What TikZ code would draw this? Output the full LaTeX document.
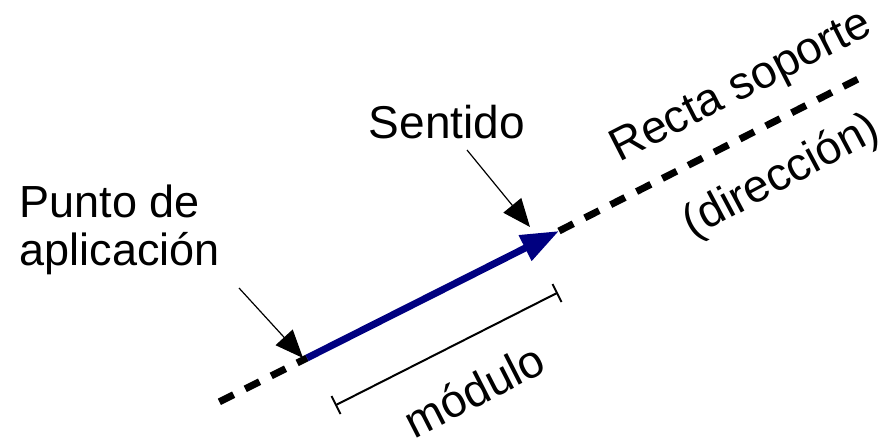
\documentclass[tikz,border=0pt]{standalone}
\usepackage{fontspec}
\setmainfont{Liberation Sans}
\usetikzlibrary{arrows.meta,calc}
\definecolor{vecblue}{RGB}{0,0,128}

\begin{document}
\begin{tikzpicture}[x=1pt,y=-1pt,
  every node/.style={font=\fontsize{46}{48}\selectfont},
  soporte/.style={line width=7pt,dash pattern=on 16pt off 13pt},
  pointer/.style={line width=1.2pt,-{Triangle[length=28pt,width=23pt]}},
  vecline/.style={line width=7pt,vecblue,-{Triangle[length=38pt,width=27pt]}}]
\useasboundingbox (0,0) rectangle (887,441);

  \coordinate (lineA) at (213,405);
  \coordinate (lineB) at (864,76);
  \coordinate (vecA) at (307,358);
  \coordinate (vecB) at (559,231);
  \coordinate (modA) at (336,405);
  \coordinate (modB) at (557,293);

 % recta soporte, in two pieces
 \draw[soporte,dash phase=5pt] (vecA)--(lineA);
 \draw[soporte] (vecB)--(lineB);
 \draw[vecline] (vecA)--(vecB);

 % modulo
 \draw[line width=2pt] (modA)--(modB);
 \draw[line width=2pt] ($(modA)+(-4.5,-9)$) -- ($(modA)+(4.5,9)$);
 \draw[line width=2pt] ($(modB)+(-4.5,-9)$) -- ($(modB)+(4.5,9)$);

 \node (sentido) at (447,122) {Sentido};
 \node[align=left,anchor=west,font=\fontsize{45}{48}\selectfont] (punto) at (16,230) {Punto de\\aplicación};
 \node[rotate=27] (modulo) at (474,390) {módulo};
 \node[rotate=27] (recta) at (742,88) {Recta soporte};
 \node[rotate=28] (dir) at (782,177) {(dirección)};

 \coordinate (ptA) at (239,288);
 \coordinate (ptAend) at (303,358);
 \coordinate (ptB) at (467,150);
 \coordinate (ptBend) at (530,227);
 \draw[pointer] (ptA)--(ptAend);
 \draw[pointer] (ptB)--(ptBend);
 \end{tikzpicture}
\end{document}
